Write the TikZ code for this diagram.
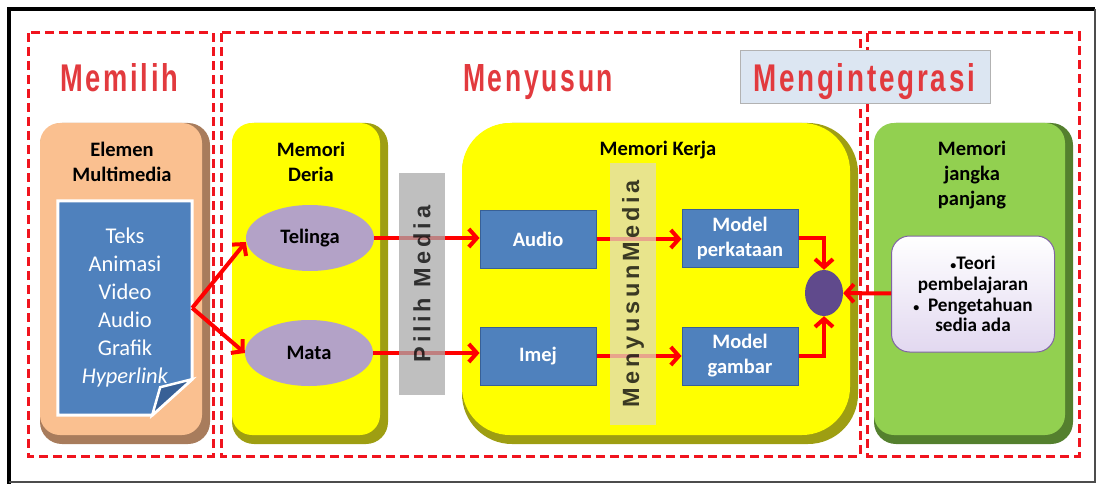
\documentclass[tikz,border=0pt]{standalone}
\usepackage{fontspec}
\usepackage{graphicx}
\setmainfont{Carlito}
\newfontfamily\titlefont[LetterSpace=10]{Liberation Sans}
\newfontfamily\barfont[LetterSpace=16]{Liberation Sans}
\definecolor{zonered}{RGB}{240,20,30}
\definecolor{titlered}{RGB}{226,58,62}
\definecolor{peach}{RGB}{250,192,144}
\definecolor{peachdk}{RGB}{168,124,92}
\definecolor{yel}{RGB}{255,255,0}
\definecolor{yeldk}{RGB}{158,158,18}
\definecolor{grn}{RGB}{146,208,80}
\definecolor{grndk}{RGB}{84,128,46}
\definecolor{docblue}{RGB}{79,129,189}
\definecolor{docdk}{RGB}{56,96,150}
\definecolor{lilac}{RGB}{179,162,199}
\definecolor{hubpurple}{RGB}{96,74,140}
\definecolor{lavfill}{RGB}{226,216,240}
\definecolor{lavedge}{RGB}{128,100,162}
\definecolor{barfill}{RGB}{170,170,170}
\definecolor{khaki}{RGB}{225,220,187}
\definecolor{integfill}{RGB}{220,230,242}
\definecolor{arrred}{RGB}{255,0,0}
\usetikzlibrary{arrows.meta,positioning,shapes.geometric}

\begin{document}
\begin{tikzpicture}[x=1pt,y=-1pt,
  every node/.style={font=\bfseries\fontsize{20.5}{25}\selectfont,align=center},
  zone/.style={draw=zonered,line width=3pt,dash pattern=on 9pt off 5pt},
  title/.style={text=titlered,inner sep=0pt,anchor=base west},
  sense/.style={ellipse,fill=lilac,minimum width=128,minimum height=66,inner sep=0pt},
  bluebox/.style={rectangle,fill=docblue,draw=docdk,line width=1pt,text=white,
    minimum width=116,minimum height=58,inner sep=0pt},
  vbar/.style={rectangle,fill opacity=0.75,rotate=90,inner sep=0pt,
    font=\barfont\bfseries\fontsize{23.5}{25}\selectfont},
  arr/.style={draw=arrred,line width=4pt,-{Straight Barb[length=8pt,width=18pt]}}]
\useasboundingbox (0,0) rectangle (1097,484);

% frame
\draw[line width=4pt] (9,484) -- (9,9) -- (1095,9);
\draw[gray!60!black,line width=1.2pt] (1095,9) -- (1095,482) -- (9,482);

% dashed zones
\draw[zone] (28,33) rectangle (213,456);
\draw[zone] (221,33) rectangle (860,456);
\draw[zone] (867,33) rectangle (1079,456);

% zone titles
\node[title] (memilih) at (60,92) {\resizebox{118pt}{28pt}{\titlefont\bfseries Memilih}};
\node[title] (menyusun) at (463,92) {\resizebox{150pt}{27pt}{\titlefont\bfseries Menyusun}};
\fill[integfill,draw=gray!60] (740,50) rectangle (990,103);
\node[title] (integ) at (753,92) {\resizebox{222pt}{28pt}{\titlefont\bfseries Mengintegrasi}};

% panels
\fill[peachdk,rounded corners=22] (40,123) rectangle (210,444);
\fill[peach,rounded corners=20] (40,123) rectangle (202,435);
\fill[yeldk,rounded corners=22] (232,123) rectangle (388,444);
\fill[yel,rounded corners=20] (232,123) rectangle (380,435);
\fill[yeldk,rounded corners=50] (462,123) rectangle (858,444);
\fill[yel,rounded corners=48] (462,123) rectangle (850,435);
\fill[grndk,rounded corners=22] (874,123) rectangle (1073,444);
\fill[grn,rounded corners=20] (874,123) rectangle (1065,435);

\node (elemen) at (122,162) {Elemen\\Multimedia};
\node (deria) at (311,162) {Memori\\Deria};
\node (kerja) at (658,150) {Memori Kerja};
\node (jangka) at (972,175) {Memori\\jangka\\panjang};

% media sheet
\node[minimum width=134,minimum height=214,inner sep=0pt] (media) at (125,308) {};
\fill[docblue,draw=white,line width=3pt] (media.north west) -- (media.north east)
  -- ([yshift=36]media.south east) -- ([xshift=-40]media.south east)
  -- (media.south west) -- cycle;
\node[text=white,font=\fontsize{22.5}{28}\selectfont] (medialist) at ([yshift=1]media)
  {Teks\\Animasi\\Video\\Audio\\Grafik\\\textit{Hyperlink}};
\fill[docdk,draw=white,line width=2.5pt] ([xshift=-40]media.south east)
  -- ([xshift=-32,yshift=28]media.south east) -- ([yshift=36]media.south east) -- cycle;

% sensory memory
\node[sense] (telinga) at (310,238) {Telinga};
\node[sense] (mata) at (309,353) {Mata};

% working memory
\node[bluebox] (audio) at (538,239) {Audio};
\node[bluebox] (imej) at (538,356) {Imej};
\node[bluebox] (perkataan) at (740,238) {Model\\perkataan};
\node[bluebox] (gambar) at (740,356) {Model\\gambar};
\node[ellipse,fill=hubpurple,minimum width=38,minimum height=46,inner sep=0pt] (hub) at (824,293) {};

% long-term memory
\node[rectangle,rounded corners=18,draw=lavedge,line width=1pt,
  top color=white,bottom color=lavfill,minimum width=163,minimum height=116,
  font=\bfseries\fontsize{19.2}{20.8}\selectfont] (teori) at (973,294)
  {{\fontsize{12}{12}\selectfont\textbullet}Teori\\pembelajaran\\{\fontsize{12}{12}\selectfont\textbullet}\ \ Pengetahuan\\sedia ada};

% arrows
\draw[arr] (media.east) -- ([yshift=-4]telinga.west);
\draw[arr] (media.east) -- (mata.west);
\draw[arr] (telinga) -- (audio.west |- telinga);
\draw[arr] (mata) -- (imej.west |- mata);
\draw[arr] (audio) -- (perkataan.west |- audio);
\draw[arr] (imej) -- (gambar);
\draw[arr] (perkataan.east) -| (hub.north);
\draw[arr] (gambar.east) -| (hub.south);
\draw[arr] (teori) -- (hub);

% selection bars
\node[vbar,fill=barfill,minimum width=222,minimum height=46] (pilih) at (422,284) {Pilih Media};
\node[vbar,fill=khaki,minimum width=262,minimum height=46] (susun) at (633,294) {MenyusunMedia};
\end{tikzpicture}
\end{document}
